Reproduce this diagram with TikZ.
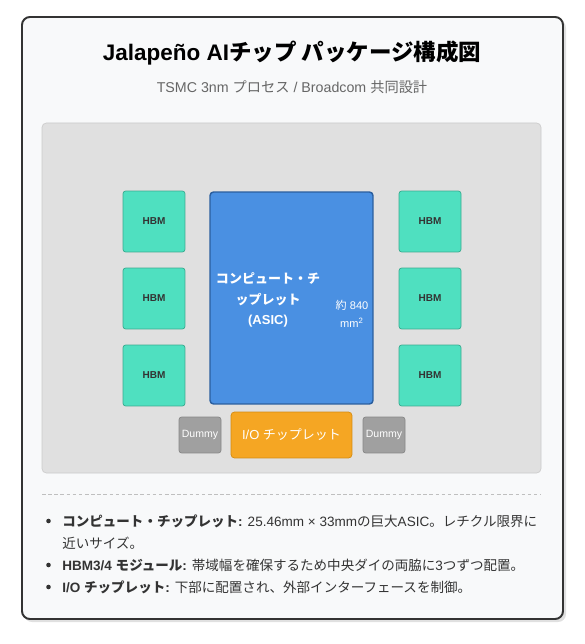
\documentclass[tikz,border=0pt]{standalone}
\usepackage{fontspec}
\setmainfont{Liberation Sans}
\newfontfamily\jp{Noto Sans CJK JP}
\usetikzlibrary{positioning}
\definecolor{cardfill}{HTML}{F8F9FA}
\definecolor{cardline}{HTML}{333333}
\definecolor{pkgfill}{HTML}{E0E0E0}
\definecolor{pkgline}{HTML}{CCCCCC}
\definecolor{hbmfill}{HTML}{4FE0C0}
\definecolor{hbmline}{HTML}{3AAB90}
\definecolor{asicfill}{HTML}{4A90E2}
\definecolor{asicline}{HTML}{2A5E9E}
\definecolor{iofill}{HTML}{F5A623}
\definecolor{ioline}{HTML}{D48A10}
\definecolor{dumfill}{HTML}{A0A0A0}
\definecolor{dumline}{HTML}{888888}
\tikzset{
  hbm/.style={draw=hbmline, fill=hbmfill, rounded corners=1.5pt, minimum width=1.24cm, minimum height=1.22cm, inner sep=0pt, font=\fontsize{5.7}{6}\selectfont\bfseries, text=black!80},
  asic/.style={draw=asicline, line width=0.8pt, fill=asicfill, rounded corners=2pt, minimum width=3.26cm, minimum height=4.24cm, inner sep=0pt},
  dummy/.style={draw=dumline, fill=dumfill, rounded corners=1.5pt, minimum width=0.84cm, minimum height=0.72cm, inner sep=0pt, text=white, font=\fontsize{6}{7}\selectfont},
  iobox/.style={draw=ioline, fill=iofill, rounded corners=2pt, minimum width=2.42cm, minimum height=0.92cm, inner sep=0pt, text=white, font=\fontsize{7.4}{8}\selectfont},
  bullet/.style={anchor=west, inner sep=0pt, text=black!80, font=\fontsize{7.7}{12.5}\selectfont, align=left}
}
\begin{document}
\begin{tikzpicture}[x=0.02cm, y=-0.02cm]
\useasboundingbox (0,0) rectangle (584,644);
% card
\fill[black!12, rounded corners=4.5pt] (24,20) rectangle (566,622);
\draw[cardline, line width=1.1pt, fill=cardfill, rounded corners=4.5pt] (22,17) rectangle (563,619);
\node (title) at (292,53) {\fontsize{12.8}{14}\selectfont\bfseries Jalape\~no AI\jp チップ パッケージ構成図};
\node (sub) at (292,87) [text=black!60] {\fontsize{8.1}{9}\selectfont TSMC 3nm {\jp プロセス} / Broadcom {\jp 共同設計}};

% package substrate
\draw[pkgline, fill=pkgfill, rounded corners=2.5pt] (42,123) rectangle (541,473);

% HBM stacks
\foreach \i/\y in {1/221.5, 2/298.5, 3/375.5} {
  \node[hbm] (hl\i) at (154,\y) {HBM};
  \node[hbm] (hr\i) at (430,\y) {HBM};
}
% compute die
\node[asic] (asic) at (291.5,298) {};
\node (asictxt) at (268,300) [align=center, text=white, inner sep=0pt, font=\fontsize{7.4}{11.5}\selectfont\bfseries] {{\jp コンピュート・チ}\\{\jp ップレット}\\(ASIC)};
\node (area) at (352,314) [align=center, text=white, inner sep=0pt, font=\fontsize{6.3}{10}\selectfont] {{\jp 約} 840\\mm\textsuperscript{2}};

% bottom row
\node[dummy] (dl) at (200,435) {Dummy};
\node[iobox] (io) at (291.5,435) {I/O {\jp チップレット}};
\node[dummy] (dr) at (384,435) {Dummy};

% notes
\draw[black!25, dashed, dash pattern=on 2pt off 1.5pt] (42,494) -- (541,494);
\foreach \y in {521,565,587} \fill[black!80] (48.5,\y) circle (2.3);
\node[bullet] (note1) at (62,532) {{\jp\bfseries コンピュート・チップレット}\textbf{:} 25.46mm × 33mm{\jp の巨大}ASIC{\jp 。レチクル限界に}\\{\jp 近いサイズ。}};
\node[bullet] (note2) at (62,565) {\textbf{HBM3/4 {\jp モジュール}:} {\jp 帯域幅を確保するため中央ダイの両脇に}3{\jp つずつ配置。}};
\node[bullet] (note3) at (62,587) {\textbf{I/O {\jp チップレット}:} {\jp 下部に配置され、外部インターフェースを制御。}};
\end{tikzpicture}
\end{document}
